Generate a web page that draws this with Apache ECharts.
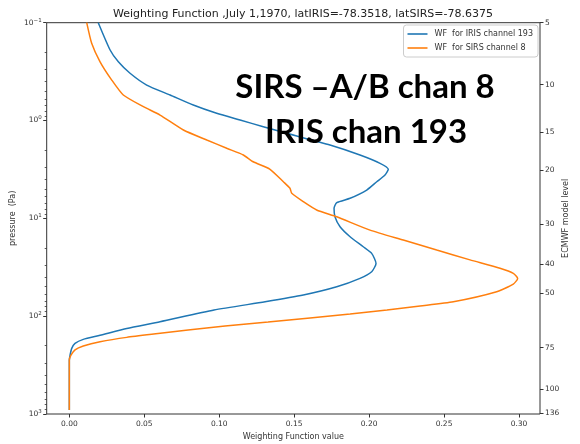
<!DOCTYPE html>
<html>
<head>
<meta charset="utf-8">
<script src="https://cdn.jsdelivr.net/npm/echarts@6/dist/echarts.min.js"></script>
<style>
  html, body { margin: 0; padding: 0; background: #fff; }
  #chart { width: 580px; height: 444px; }
</style>
</head>
<body>
<div id="chart"></div>
<script>
// IRIS channel 193 weighting function: pressure (Pa) and value
const irisPressure = [0.100, 0.190, 0.251, 0.329, 0.434, 0.548, 0.695, 0.844, 0.989, 1.157, 1.352, 1.779,
  2.252, 2.741, 3.155, 3.606, 4.227, 5.14, 6.24, 6.92, 7.90, 9.64, 12.19, 15.42, 19.50, 22.79, 28.86,
  35.14, 41.1, 50.1, 60.8, 71.3, 86.5, 114.1, 133.4, 157.0, 172.7, 189.7, 213.3, 250, 281, 912];
const irisWF = [0.0193, 0.0272, 0.0327, 0.0405, 0.0516, 0.0672, 0.0827, 0.0983, 0.1139, 0.1294, 0.1450, 0.1739,
  0.1939, 0.2073, 0.2128, 0.2106, 0.2051, 0.1984, 0.1873, 0.1784, 0.1766, 0.1772, 0.1806, 0.1873, 0.1961, 0.2017, 0.2046,
  0.2017, 0.1939, 0.1784, 0.1561, 0.1306, 0.0965, 0.0605, 0.0383, 0.0205, 0.0093, 0.0038, 0.0016, 0.0005, 0, 0];

// SIRS channel 8 weighting function: pressure (Pa) and value
const sirsPressure = [0.100, 0.1625, 0.251, 0.386, 0.548, 0.722, 0.879, 1.250, 1.582, 1.923, 2.252, 2.64,
  3.15, 4.23, 4.93, 5.55, 6.76, 8.22, 9.64, 13.19, 16.68, 21.1, 26.57, 32.4, 36.5, 41.1, 47.0, 56.3,
  71.3, 78.8, 86.5, 95.2, 104.6, 114.9, 126.2, 138.7, 150.7, 164.7, 182.8, 202.2, 221.2, 250, 281, 912];
const sirsWF = [0.0116, 0.0149, 0.0205, 0.0283, 0.0360, 0.0494, 0.0605, 0.0761, 0.0917, 0.1050, 0.1161, 0.1227,
  0.1339, 0.1428, 0.1472, 0.1484, 0.1561, 0.1650, 0.1784, 0.2006, 0.2228, 0.2451, 0.2673, 0.2873, 0.2962, 0.2991, 0.2962, 0.2851,
  0.2562, 0.2340, 0.2119, 0.1873, 0.1606, 0.1326, 0.1039, 0.0792, 0.0592, 0.0383, 0.0205, 0.0093, 0.0038, 0.0011, 0, 0];

// Axis ticks
const wfTicks = [0, 0.05, 0.10, 0.15, 0.20, 0.25, 0.30];
const pressureTicks = [0.1, 1, 10, 100, 1000];
const pressureMinorTicks = [0.2, 0.3, 0.4, 0.5, 0.6, 0.7, 0.8, 0.9, 2, 3, 4, 5, 6, 7, 8, 9,
  20, 30, 40, 50, 60, 70, 80, 90, 200, 300, 400, 500, 600, 700, 800, 900];
// ECMWF model levels and the pressures (Pa) they sit at on the right axis
const ecmwfLevels = [5, 10, 15, 20, 30, 40, 50, 75, 100, 136];
const ecmwfLevelPressure = [0.1, 0.429, 1.312, 3.21, 11.43, 29.3, 58.1, 209.5, 562, 980];

const seriesNames = ['WF  for IRIS channel 193', 'WF  for SIRS channel 8'];
const seriesColors = ['#1f77b4', '#ff7f0e'];

const FONT = 'DejaVu Sans';
const TXT = '#333';

function pairs(xs, ys) { return xs.map((x, i) => [x, ys[i]]); }

function levelFor(p) {
  let best = 0, bd = Infinity;
  ecmwfLevelPressure.forEach((q, i) => {
    const d = Math.abs(Math.log10(q) - Math.log10(p));
    if (d < bd) { bd = d; best = i; }
  });
  return String(ecmwfLevels[best]);
}

function pressureAxis(extra) {
  return Object.assign({
    type: 'log', logBase: 10,
    min: 0.1, max: 1000, inverse: true,
    splitLine: { show: false }
  }, extra);
}

const chart = echarts.init(document.getElementById('chart'), null, { renderer: 'canvas' });

chart.setOption({
  animation: false,
  backgroundColor: '#fff',
  textStyle: { fontFamily: FONT },
  title: {
    text: 'Weighting Function ,July 1,1970, latIRIS=-78.3518, latSIRS=-78.6375',
    left: 298, top: 4, textAlign: 'center',
    textStyle: { fontFamily: FONT, fontSize: 11, fontWeight: 'normal', color: '#222' }
  },
  legend: {
    orient: 'vertical',
    right: 42, top: 25,
    data: seriesNames,
    icon: 'rect',
    itemWidth: 20, itemHeight: 1.6,
    itemGap: 6,
    padding: [5, 5, 5, 4],
    borderColor: '#ccc', borderWidth: 1, borderRadius: 3,
    backgroundColor: 'rgba(255,255,255,0.8)',
    textStyle: { fontFamily: FONT, fontSize: 8, color: TXT, padding: [0, 0, 0, 2] }
  },
  grid: {
    left: 46.7, top: 22.7, right: 40, bottom: 30,
    outerBoundsMode: 'none',
    containLabel: false,
    show: true, borderColor: '#333', borderWidth: 1, backgroundColor: 'transparent'
  },
  xAxis: {
    type: 'value',
    min: -0.0151, max: 0.314,
    name: 'Weighting Function value',
    nameLocation: 'middle', nameGap: 19,
    nameTextStyle: { fontFamily: FONT, fontSize: 8, color: TXT },
    axisLine: { show: false, onZero: false },
    splitLine: { show: false },
    axisTick: { show: true, length: 3.5, customValues: wfTicks, lineStyle: { color: '#333' } },
    axisLabel: {
      customValues: wfTicks, margin: 6,
      fontFamily: FONT, fontSize: 7.5, color: TXT,
      formatter: v => v.toFixed(2)
    }
  },
  yAxis: [
    pressureAxis({
      position: 'left',
      name: 'pressure  (Pa)',
      nameLocation: 'middle', nameGap: 30,
      nameMoveOverlap: false,
      nameTextStyle: { fontFamily: FONT, fontSize: 8, color: TXT },
      axisLine: { show: false, onZero: false },
      axisTick: { show: true, length: 3.5, customValues: pressureTicks, lineStyle: { color: '#333' } },
      axisLabel: {
        customValues: pressureTicks, margin: 5,
        fontFamily: FONT, color: TXT,
        formatter: v => {
          const e = Math.round(Math.log10(v));
          return '{b|10}{s|' + (e < 0 ? '\u2212' + (-e) : e) + '}';
        },
        rich: {
          b: { fontFamily: FONT, fontSize: 7.5, color: TXT },
          s: { fontFamily: FONT, fontSize: 5.5, color: TXT, padding: [0, 0, 5, 0] }
        }
      }
    }),
    pressureAxis({
      position: 'right',
      name: 'ECMWF model level',
      nameLocation: 'middle', nameGap: 22,
      nameMoveOverlap: false,
      nameRotate: 90,
      nameTextStyle: { fontFamily: FONT, fontSize: 8, color: TXT },
      axisLine: { show: false, onZero: false },
      axisTick: { show: true, length: 3.5, customValues: ecmwfLevelPressure, lineStyle: { color: '#333' } },
      axisLabel: {
        customValues: ecmwfLevelPressure, margin: 5,
        fontFamily: FONT, fontSize: 7.5, color: TXT,
        formatter: v => levelFor(v)
      }
    }),
    pressureAxis({
      position: 'left', offset: 0,
      axisLine: { show: false, onZero: false },
      axisLabel: { show: false },
      axisTick: { show: true, length: 2, customValues: pressureMinorTicks, lineStyle: { color: '#333', width: 0.8 } }
    })
  ],
  series: [
    {
      name: seriesNames[0], type: 'line', yAxisIndex: 0,
      data: pairs(irisWF, irisPressure),
      showSymbol: false, smooth: 0.2,
      lineStyle: { color: seriesColors[0], width: 1.5 },
      itemStyle: { color: seriesColors[0] },
      z: 2
    },
    {
      name: seriesNames[1], type: 'line', yAxisIndex: 0,
      data: pairs(sirsWF, sirsPressure),
      showSymbol: false, smooth: 0.2,
      lineStyle: { color: seriesColors[1], width: 1.5 },
      itemStyle: { color: seriesColors[1] },
      z: 3
    }
  ],
  graphic: [
    {
      type: 'text', x: 365, y: 87, z: 100,
      style: { text: 'SIRS \u2013A/B chan 8', font: 'bold 33px Lato', fill: '#000', align: 'center', verticalAlign: 'middle' }
    },
    {
      type: 'text', x: 366, y: 132, z: 100,
      style: { text: 'IRIS chan 193', font: 'bold 33px Lato', fill: '#000', align: 'center', verticalAlign: 'middle' }
    }
  ]
});
</script>
</body>
</html>
